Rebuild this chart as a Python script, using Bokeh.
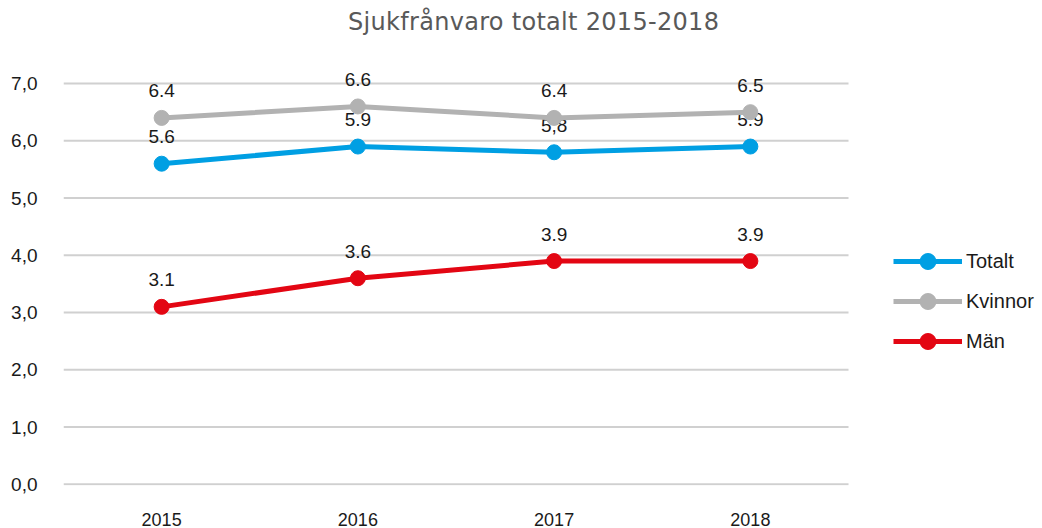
from bokeh.plotting import figure
from bokeh.models import (ColumnDataSource, FixedTicker, Legend, LegendItem, Div, Range1d)
from bokeh.layouts import column
from bokeh.core.properties import value
from bokeh.embed import file_html
from bokeh.resources import INLINE

years = ["2015", "2016", "2017", "2018"]
totalt = [5.6, 5.9, 5.8, 5.9]
kvinnor = [6.4, 6.6, 6.4, 6.5]
man = [3.1, 3.6, 3.9, 3.9]
totalt_labels = ["5.6", "5.9", "5,8", "5.9"]
kvinnor_labels = ["6.4", "6.6", "6.4", "6.5"]
man_labels = ["3.1", "3.6", "3.9", "3.9"]
y_ticks = [0, 1, 2, 3, 4, 5, 6, 7]
y_tick_labels = ["0,0", "1,0", "2,0", "3,0", "4,0", "5,0", "6,0", "7,0"]
title_text = "Sjukfrånvaro totalt 2015-2018"

FONT = "Liberation Sans"
TITLE_H = 40
xs = list(range(len(years)))
# plot area spans 785 px for the 4 categories; extra room on the right hosts the legend
X_EXTRA = 194 / (785 / len(years))

title = Div(text=title_text, width=1042, height=TITLE_H, margin=(0, 0, 0, 0),
            styles={"font-family": "DejaVu Sans", "font-size": "24px",
                    "color": "#595959", "letter-spacing": "0.3px",
                    "padding-left": "348px", "padding-top": "5px",
                    "white-space": "nowrap"})

p = figure(x_range=Range1d(-0.5, len(years) - 0.5 + X_EXTRA),
           y_range=(-0.02, 7.49), width=1042, height=528 - TITLE_H,
           output_backend="svg", toolbar_location=None,
           min_border_left=63, min_border_right=0,
           min_border_top=55 - TITLE_H, min_border_bottom=43, margin=(0, 0, 0, 0))
p.outline_line_color = None
p.background_fill_color = "white"
p.border_fill_color = "white"

p.xgrid.grid_line_color = None
p.ygrid.grid_line_color = None
# horizontal grid lines limited to the category area
p.segment(x0=-0.5, x1=len(years) - 0.5, y0=y_ticks, y1=y_ticks,
          line_color="#D0D0D0", line_width=2)

p.yaxis.ticker = FixedTicker(ticks=y_ticks)
p.yaxis.major_label_overrides = {t: l for t, l in zip(y_ticks, y_tick_labels)}
p.xaxis.ticker = FixedTicker(ticks=xs)
p.xaxis.major_label_overrides = {x: y for x, y in zip(xs, years)}
for ax in (p.xaxis[0], p.yaxis[0]):
    ax.axis_line_color = None
    ax.major_tick_line_color = None
    ax.minor_tick_line_color = None
    ax.major_label_text_font = FONT
    ax.major_label_text_font_size = "19px"
    ax.major_label_text_color = "#1a1a1a"
p.xaxis.major_label_text_font_size = "18px"
p.yaxis.major_label_standoff = 20
p.xaxis.major_label_standoff = 21

series = [
    ("Totalt", totalt, totalt_labels, "#009FE3"),
    ("Kvinnor", kvinnor, kvinnor_labels, "#B2B2B2"),
    ("Män", man, man_labels, "#E30613"),
]
items = []
for name, vals, labs, col in series:
    src = ColumnDataSource(dict(x=xs, y=vals, lab=labs))
    r1 = p.line("x", "y", source=src, line_color=col, line_width=5)
    r2 = p.scatter("x", "y", source=src, size=15, fill_color=col, line_color=col)
    p.text("x", "y", text="lab", source=src, text_align="center",
           text_baseline="alphabetic", y_offset=-27, text_font_size="19px",
           text_color="#1a1a1a", text_font=value(FONT))
    items.append(LegendItem(label=name, renderers=[r1, r2]))

legend = Legend(items=items, location=(830, 124), glyph_width=69,
                glyph_height=40, spacing=0, padding=0, margin=0,
                label_standoff=4, label_text_font=FONT,
                label_text_font_size="20px", label_text_color="#1a1a1a",
                border_line_color=None, background_fill_alpha=0)
p.add_layout(legend, "center")

layout = column(title, p, spacing=0, margin=(0, 0, 0, 0))
open("out.html", "w").write(file_html(layout, INLINE))
